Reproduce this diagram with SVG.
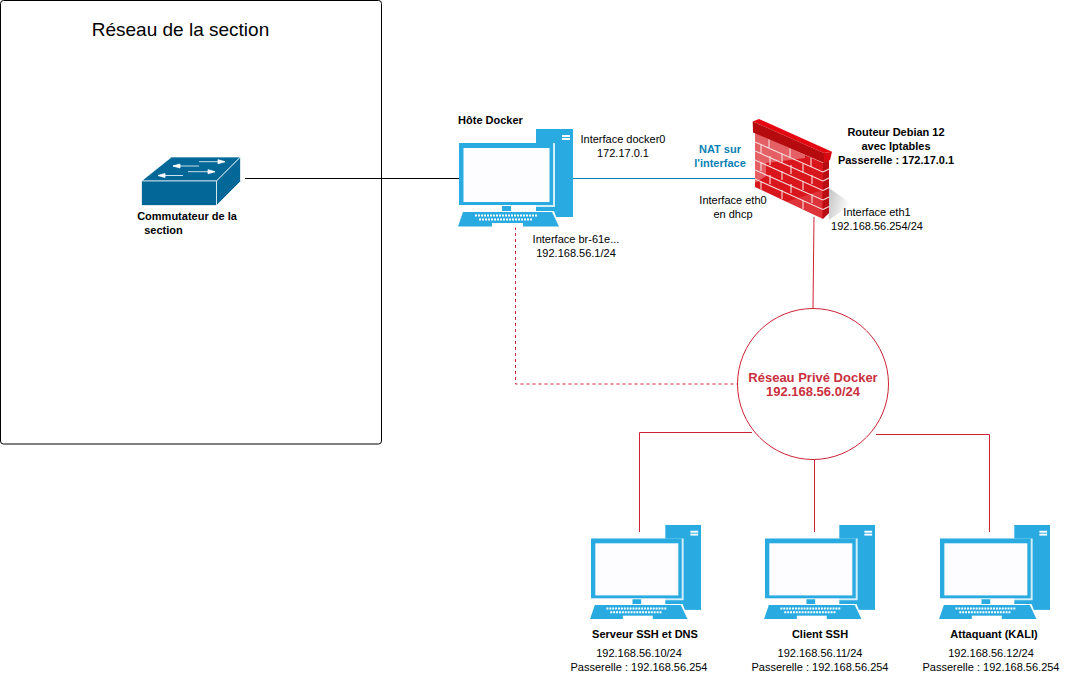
<svg xmlns="http://www.w3.org/2000/svg" width="1075" height="687" viewBox="0 0 1075 687">
<style>
text{font-family:"Liberation Sans",Arial,sans-serif;font-size:11px;fill:#000;text-anchor:middle}
.b{font-weight:bold}
.blue{fill:#29abe2}
.w{fill:#fff}
.nat{fill:#0a7fb5}
.net{fill:#c9303e;font-size:13px}
.mortar{fill:none;stroke:#f6dcdc;stroke-width:1.1}
</style>
<defs>
<linearGradient id="sh" x1="0" y1="0" x2="1" y2="0.300"><stop offset="0" stop-color="#bbb"/><stop offset="1" stop-color="#fff"/></linearGradient>
<g id="pc">
<rect class="blue" x="77" y="1" width="37" height="88"/>
<rect class="w" x="103" y="7" width="8" height="2"/>
<rect class="w" x="103" y="10" width="8" height="2"/>
<rect class="w" x="0" y="15" width="96" height="64" fill-opacity=".8"/>
<rect class="blue" x="0" y="15" width="94" height="62"/>
<rect fill="#fdfdff" x="4.500" y="20" width="86" height="54"/>
<rect class="blue" x="43" y="78" width="9" height="6"/>
<path class="w" d="M3 83H95L101 99.500H-2Z"/>
<path class="blue" d="M4 84H93L100 98.500H-1Z"/>
<rect class="w" x="33" y="95" width="31" height="4"/>
<path d="M16 87.500H78M20 91.500H73" fill="none" stroke="#fff" stroke-width="2" stroke-dasharray="2 1"/>
</g>
<clipPath id="wf"><path d="M755 133L823 163V219L755 187Z"/></clipPath>
</defs>
<g id="section-frame">
<rect x="0.500" y="0.500" width="381" height="443.500" rx="3" fill="#fff" stroke="#000"/>
<text x="180.500" y="36" style="font-size:19px">Réseau de la section</text>
</g>
<g id="connectors" fill="none">
<path d="M245 178.500H459" stroke="#000"/>
<path d="M573 178.500H756" stroke="#0a7fb5"/>
<path d="M814 217L813 308" stroke="#cc2233"/>
<path d="M515.500 227V384H738" stroke="#cc2233" stroke-dasharray="3 3"/>
<path d="M639.500 532V432.500H752" stroke="#cc2233"/>
<path d="M814.500 532V460" stroke="#cc2233"/>
<path d="M989.500 532V434.500H876" stroke="#cc2233"/>
</g>
<g id="switch">
<path d="M141.500 181L171.500 157H240.500L216.500 181Z" fill="#036897" stroke="#fff" stroke-width=".7"/>
<path d="M141.500 181H216.500V205.500H141.500Z" fill="#036897" stroke="#fff" stroke-width=".7"/>
<path d="M216.500 181L240.500 157V181.500L216.500 205.500Z" fill="#036897" stroke="#fff" stroke-width=".7"/>
<path d="M199 161.700H225L218 159.700V163.700L225 161.700M188 171.700H215L208 169.700V173.700L215 171.700M199 166H173L180 164V168L173 166M183 175.500H158L165 173.500V177.500L158 175.500" fill="#fff" stroke="#fff" stroke-width=".8"/>
<text class="b" x="187" y="220">Commutateur de la</text>
<text class="b" x="163.500" y="234">section</text>
</g>
<g id="host">
<use href="#pc" x="459" y="128"/>
<text class="b" x="490.500" y="124">Hôte Docker</text>
<text x="623" y="143">Interface docker0</text>
<text x="623" y="157">172.17.0.1</text>
<text class="b nat" x="720" y="153">NAT sur</text>
<text class="b nat" x="720" y="167">l'interface</text>
<text x="733" y="204">Interface eth0</text>
<text x="733" y="218">en dhcp</text>
<text x="576" y="243">Interface br-61e...</text>
<text x="576" y="257">192.168.56.1/24</text>
</g>
<g id="firewall">
<path d="M826 186L852 204L829 220Z" fill="url(#sh)"/>
<path d="M755 133L823 163V219L755 187Z" fill="#d9161c"/>
<path d="M755 133L805 155V158L766 163V176L755 183Z" fill="#fff" fill-opacity=".32"/>
<path d="M783 203L822 190V219L813 215Z" fill="#fff" fill-opacity=".13"/>
<path d="M823 163L829 160V213L823 219Z" fill="#b80d12"/>
<g clip-path="url(#wf)" class="mortar">
<path d="M755 142L823 172M755 151L823 181M755 160L823 190.500M755 170L823 200M755 179L823 209.500"/>
<path d="M769 139V148M790 148V157M811 158V167M761 145V154M782 154V163M803 164V173M770 156V165M791 165V174M812 175V184M761 162V171M782 171V180M803 181V190M770 175V184M791 184V193M812 194V203M761 181V190M782 190V199M803 200V209"/>
</g>
<path d="M823 172L829 169M823 181L829 178M823 190.500L829 187.500M823 200L829 197M823 209.500L829 206.500" class="mortar"/>
<path d="M752.700 121.500L759 119L832 151.700L824 153Z" fill="#e40712"/>
<path d="M752.700 121.500L824 153V163L753 132.500Z" fill="#b50a0e"/>
<path d="M824 153L832 151.700L830 160L824 163Z" fill="#d50b12"/>
<text class="b" x="896" y="136">Routeur Debian 12</text>
<text class="b" x="896" y="150">avec Iptables</text>
<text class="b" x="896" y="164">Passerelle : 172.17.0.1</text>
<text x="877" y="216">Interface eth1</text>
<text x="877" y="230">192.168.56.254/24</text>
</g>
<g id="docker-network">
<circle cx="813" cy="384" r="75.500" fill="#fff" stroke="#cc2233"/>
<text class="b net" x="813" y="382">Réseau Privé Docker</text>
<text class="b net" x="813" y="396">192.168.56.0/24</text>
</g>
<g id="ssh-server">
<use href="#pc" transform="translate(591 524) scale(.965)"/>
<text class="b" x="645" y="638">Serveur SSH et DNS</text>
<text x="639" y="657">192.168.56.10/24</text>
<text x="639" y="671">Passerelle : 192.168.56.254</text>
</g>
<g id="ssh-client">
<use href="#pc" transform="translate(765 524) scale(.965)"/>
<text class="b" x="820" y="638">Client SSH</text>
<text x="820" y="657">192.168.56.11/24</text>
<text x="820" y="671">Passerelle : 192.168.56.254</text>
</g>
<g id="attacker">
<use href="#pc" transform="translate(940 524) scale(.965)"/>
<text class="b" x="994" y="638">Attaquant (KALI)</text>
<text x="991" y="657">192.168.56.12/24</text>
<text x="991" y="671">Passerelle : 192.168.56.254</text>
</g>
</svg>
